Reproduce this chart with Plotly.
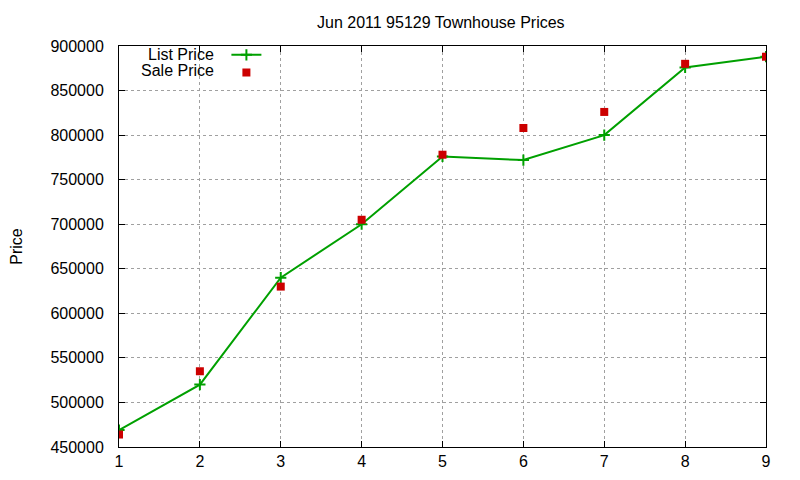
import plotly.graph_objects as go

months = [1, 2, 3, 4, 5, 6, 7, 8, 9]
list_price = [469000, 520000, 640000, 700000, 776000, 772000, 800000, 876000, 888000]
sale_price = [464000, 535000, 630000, 705000, 778000, 808000, 826000, 880000, 888000]
legend_labels = ["List Price", "Sale Price"]

fnt = "Liberation Sans, Arial, sans-serif"
green = "#00a000"
red = "#cc0000"

fig = go.Figure()
fig.add_trace(go.Scatter(x=months, y=list_price, mode="lines+markers", name=" ", legend="legend",
                         showlegend=True, line=dict(color=green, width=2),
                         marker=dict(symbol="cross-thin", size=8, line=dict(color=green, width=2))))
fig.add_trace(go.Scatter(x=months, y=sale_price, mode="markers", name=" ", legend="legend2",
                         showlegend=True, marker=dict(symbol="square", size=8, color=red)))

axis_style = dict(showline=True, linecolor="black", linewidth=1, mirror="ticks",
                  ticks="inside", ticklen=6, tickcolor="black",
                  showgrid=True, gridcolor="#a0a0a0", griddash="dot", gridwidth=1,
                  zeroline=False, automargin=False,
                  tickfont=dict(size=16, color="black", family=fnt))

fig.update_xaxes(range=[1, 9], dtick=1, ticklabelstandoff=0, **axis_style)
fig.update_yaxes(range=[450000, 900000], dtick=50000, tickformat="d", ticklabelstandoff=11,
                 title=dict(text="Price", font=dict(size=16, color="black", family=fnt), standoff=38),
                 **axis_style)

# legend text sits left of the sample, gnuplot style
for i, lab in enumerate(legend_labels):
    fig.add_annotation(text=lab, xref="paper", yref="paper", x=0.150, y=0.978 - i * 0.04,
                       xanchor="right", yanchor="middle", showarrow=False,
                       font=dict(size=16, color="black", family=fnt))

leg = dict(x=0.166, xanchor="left", bgcolor="rgba(0,0,0,0)", visible=True,
           font=dict(size=11, color="black", family=fnt))

fig.update_layout(
    width=800, height=480,
    margin=dict(l=111, r=42, t=38, b=41),
    plot_bgcolor="white", paper_bgcolor="white",
    showlegend=True,
    title=dict(text="Jun 2011 95129 Townhouse Prices", x=0.541, xanchor="center",
               y=0.971, yanchor="middle",
               font=dict(size=16, color="black", family=fnt)),
    legend=dict(y=0.978, yanchor="middle", **leg),
    legend2=dict(y=0.970, yanchor="top", **leg),
    font=dict(family=fnt),
)

fig.write_html("out.html")
